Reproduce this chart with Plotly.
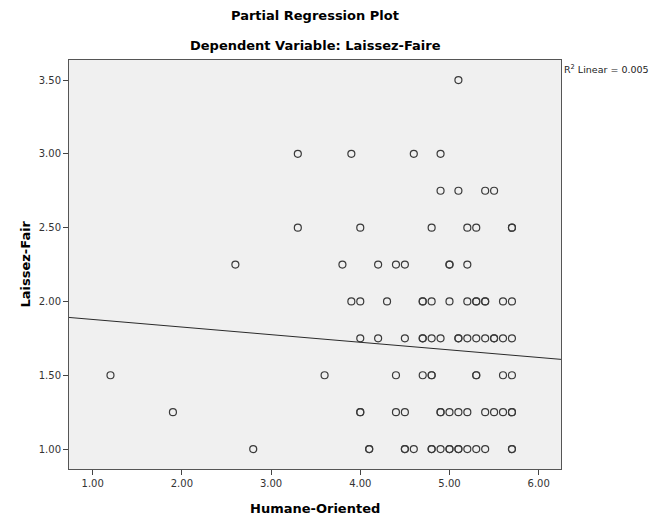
import plotly.graph_objects as go

# Data (Humane-Oriented vs Laissez-Faire)
humane = (
    [5.1]
    + [3.3, 3.9, 4.6, 4.9]
    + [4.9, 5.1, 5.4, 5.5]
    + [3.3, 4.0, 4.8, 5.2, 5.3, 5.7, 5.7]
    + [2.6, 3.8, 4.2, 4.4, 4.5, 5.0, 5.0, 5.2]
    + [3.9, 4.0, 4.3, 4.7, 4.7, 4.8, 5.0, 5.2, 5.3, 5.3, 5.4, 5.4, 5.6, 5.7]
    + [4.0, 4.2, 4.5, 4.7, 4.7, 4.8, 4.9, 5.1, 5.1, 5.2, 5.3, 5.4, 5.5, 5.5, 5.6, 5.7]
    + [1.2, 3.6, 4.4, 4.7, 4.8, 4.8, 5.3, 5.3, 5.6, 5.7]
    + [1.9, 4.0, 4.0, 4.4, 4.5, 4.9, 4.9, 5.0, 5.1, 5.2, 5.4, 5.5, 5.6, 5.7, 5.7]
    + [2.8, 4.1, 4.1, 4.5, 4.5, 4.6, 4.8, 4.8, 4.9, 5.0, 5.0, 5.1, 5.1, 5.2, 5.3, 5.4, 5.7, 5.7]
)
laissez = (
    [3.50] * 1
    + [3.00] * 4
    + [2.75] * 4
    + [2.50] * 7
    + [2.25] * 8
    + [2.00] * 14
    + [1.75] * 16
    + [1.50] * 10
    + [1.25] * 15
    + [1.00] * 18
)

fit_intercept = 1.9296
fit_slope = -0.0515
r2_label = "R<sup>2</sup> Linear = 0.005"

x_range = [0.735, 6.25]
y_range = [0.865, 3.636]
x_ticks = [1, 2, 3, 4, 5, 6]
y_ticks = [1.0, 1.5, 2.0, 2.5, 3.0, 3.5]

fit_x = x_range
fit_y = [fit_intercept + fit_slope * v for v in fit_x]

fig = go.Figure()
fig.add_trace(go.Scatter(
    x=humane, y=laissez, mode="markers",
    marker=dict(symbol="circle-open", size=7, color="#3a3a3a", line=dict(width=1.2)),
    showlegend=False, cliponaxis=False,
))
fig.add_trace(go.Scatter(
    x=fit_x, y=fit_y, mode="lines",
    line=dict(color="#2a2a2a", width=1),
    showlegend=False,
))

font_family = "DejaVu Sans"
L, R, T, B = 69, 103, 60, 52
W, H = 664, 521
ph = H - T - B
pw = W - L - R

fig.update_layout(
    width=W, height=H,
    margin=dict(l=L, r=R, t=T, b=B, pad=0),
    paper_bgcolor="white",
    plot_bgcolor="#f0f0f0",
    font=dict(family=font_family, size=10, color="#333333"),
    xaxis=dict(
        range=x_range, tickvals=x_ticks,
        ticktext=[f"{v:.2f}" for v in x_ticks],
        showgrid=False, zeroline=False,
        showline=True, mirror=True, linecolor="#555555", linewidth=1,
        ticks="outside", ticklen=5, tickcolor="#444444", tickwidth=1,
        tickfont=dict(size=10, color="#333333"),
    ),
    yaxis=dict(
        range=y_range, tickvals=y_ticks,
        ticktext=[f"{v:.2f}" for v in y_ticks],
        showgrid=False, zeroline=False,
        showline=True, mirror=True, linecolor="#555555", linewidth=1,
        ticks="outside", ticklen=5, tickcolor="#444444", tickwidth=1,
        tickfont=dict(size=10, color="#333333"),
    ),
    annotations=[
        dict(text="<b>Partial Regression Plot</b>", xref="paper", yref="paper",
             x=0.5, y=1 + 45 / ph, xanchor="center", yanchor="middle",
             showarrow=False, font=dict(size=13, color="black", family=font_family)),
        dict(text="<b>Dependent Variable: Laissez-Faire</b>", xref="paper", yref="paper",
             x=0.5, y=1 + 15 / ph, xanchor="center", yanchor="middle",
             showarrow=False, font=dict(size=13, color="black", family=font_family)),
        dict(text="<b>Humane-Oriented</b>", xref="paper", yref="paper",
             x=0.5, y=-39 / ph, xanchor="center", yanchor="middle",
             showarrow=False, font=dict(size=13, color="black", family=font_family)),
        dict(text="<b>Laissez-Fair</b>", xref="paper", yref="paper",
             x=-44 / pw, y=0.5, xanchor="center", yanchor="middle", textangle=-90,
             showarrow=False, font=dict(size=13, color="black", family=font_family)),
        dict(text=r2_label, xref="paper", yref="paper",
             x=1 + 1 / pw, y=1 - 9 / ph, xanchor="left", yanchor="middle",
             showarrow=False, font=dict(size=9.5, color="#222222", family=font_family)),
    ],
)

fig.write_html("out.html")
